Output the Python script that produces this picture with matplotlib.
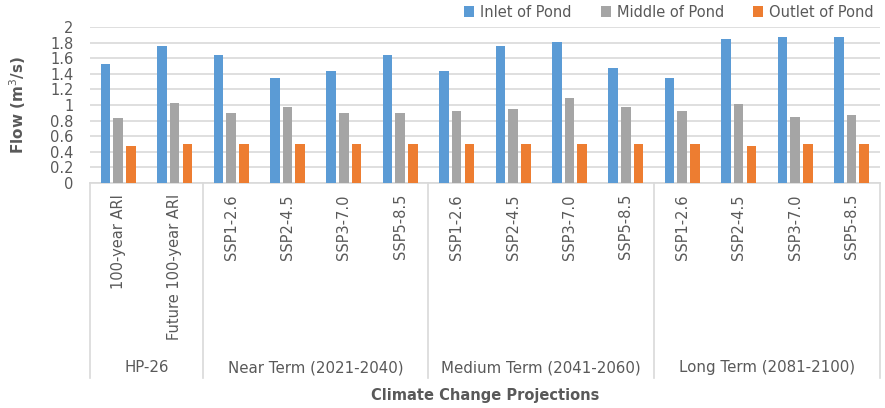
import matplotlib
matplotlib.use("Agg")
import matplotlib.pyplot as plt
import numpy as np

# flow at three points in the pond, per scenario
scenarios = [
    "100-year ARI", "Future 100-year ARI",
    "SSP1-2.6", "SSP2-4.5", "SSP3-7.0", "SSP5-8.5",
    "SSP1-2.6", "SSP2-4.5", "SSP3-7.0", "SSP5-8.5",
    "SSP1-2.6", "SSP2-4.5", "SSP3-7.0", "SSP5-8.5",
]
groups = ["HP-26", "Near Term (2021-2040)", "Medium Term (2041-2060)", "Long Term (2081-2100)"]
group_sizes = [2, 4, 4, 4]

inlet = [1.53, 1.76, 1.64, 1.35, 1.43, 1.64, 1.43, 1.75, 1.81, 1.48, 1.35, 1.85, 1.87, 1.87]
middle = [0.83, 1.03, 0.90, 0.98, 0.90, 0.90, 0.92, 0.95, 1.09, 0.98, 0.92, 1.01, 0.85, 0.87]
outlet = [0.48, 0.50, 0.50, 0.50, 0.50, 0.50, 0.50, 0.50, 0.50, 0.50, 0.50, 0.48, 0.50, 0.50]

series = [
    ("Inlet of Pond", inlet, "#5b9bd5"),
    ("Middle of Pond", middle, "#a5a5a5"),
    ("Outlet of Pond", outlet, "#ed7d31"),
]

text_color = "#595959"
line_color = "#d9d9d9"

fig = plt.figure(figsize=(8.85, 4.08), dpi=100)
ax = fig.add_axes([0.1017, 0.5515, 0.8923, 0.3825])

x = np.arange(len(scenarios))
width = 0.17
step = 0.225
for i, (name, vals, color) in enumerate(series):
    ax.bar(x + (i - 1) * step, vals, width, color=color, label=name, zorder=3)

ax.set_xlim(-0.5, len(scenarios) - 0.5)
ax.set_ylim(0, 2)
yticks = np.arange(0, 2.01, 0.2)
ax.set_yticks(yticks)
ax.set_yticklabels([f"{v:g}" for v in yticks], color=text_color, fontsize=10.5)
ax.yaxis.grid(True, color=line_color, linewidth=1.2, zorder=0)
ax.tick_params(axis="y", length=0, pad=12)

ax.set_xticks(x)
ax.set_xticklabels(scenarios, rotation=90, color=text_color, fontsize=10.5, va="top")
ax.tick_params(axis="x", length=0, pad=8)

for side in ["left", "right", "top"]:
    ax.spines[side].set_visible(False)
ax.spines["bottom"].set_color(line_color)
ax.spines["bottom"].set_linewidth(1.2)

# group separators and group names below the tick labels
trans = ax.get_xaxis_transform()
edges = np.concatenate([[0], np.cumsum(group_sizes)]) - 0.5
for e in edges:
    ax.plot([e, e], [0, -1.25], transform=trans, color=line_color,
            linewidth=1.2, clip_on=False)
for g, a, b in zip(groups, edges[:-1], edges[1:]):
    ax.text((a + b) / 2, -1.185, g, transform=trans, ha="center", va="center",
            color=text_color, fontsize=10.8)

ax.text(0.5, -1.36, "Climate Change Projections", transform=ax.transAxes,
        ha="center", va="center", color=text_color, fontsize=10.5,
        fontweight="bold")
ax.set_ylabel("Flow (m$^3$/s)", color=text_color, fontsize=11, fontweight="bold",
              labelpad=16)

ax.legend(loc="lower right", bbox_to_anchor=(1.0, 1.01), ncol=3, frameon=False,
          fontsize=10.5, labelcolor=text_color, handlelength=0.7, handleheight=0.7,
          handletextpad=0.4, columnspacing=2.0, borderaxespad=0)

fig.savefig("out.png", dpi=100)
